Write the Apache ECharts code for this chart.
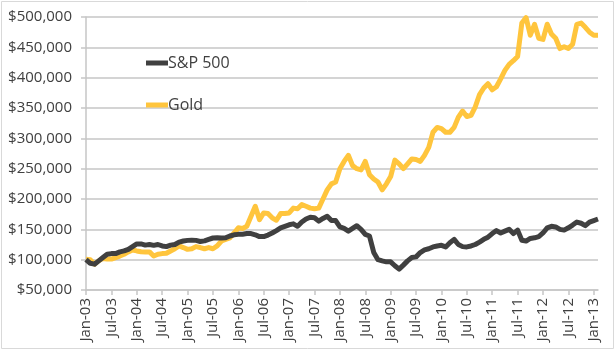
<!DOCTYPE html>
<html>
<head>
<meta charset="utf-8">
<script src="https://cdn.jsdelivr.net/npm/echarts@6/dist/echarts.min.js"></script>
<style>
  html, body { margin: 0; padding: 0; background: #fff; }
  #chart { width: 616px; height: 352px; }
</style>
</head>
<body>
<div id="chart"></div>
<script>
// months Jan-03 .. Feb-13
const months = [];
const monthNames = ["Jan", "Feb", "Mar", "Apr", "May", "Jun", "Jul", "Aug", "Sep", "Oct", "Nov", "Dec"];
for (let y = 3; y <= 13; y++) {
  monthNames.forEach((m, i) => {
    if (y === 13 && i > 1) return;
    months.push(m + "-" + String(y).padStart(2, "0"));
  });
}

// growth of $100,000
const sp500 = [
  100000, 94000, 92600, 98000, 103500, 109000, 110000, 110000, 112800, 114400, 117000, 121500,
  126000, 126000, 124000, 125000, 123600, 125000, 122600, 121500, 124000, 125000, 129000, 130700,
  131800, 132000, 131800, 130000, 131000, 133500, 135700, 136000, 135700, 136000, 139000, 141000,
  141700, 142000, 143000, 143000, 141000, 138000, 138000, 140600, 144000, 148000, 152500, 155000,
  157500, 159000, 155000, 162000, 167000, 170000, 169000, 163500, 168000, 171600, 164500, 164500,
  154000, 151500, 147000, 151500, 156000, 150000, 141600, 139000, 112000, 100000, 98000, 96400,
  96400, 90000, 84400, 91000, 98000, 103500, 104600, 111700, 116000, 118000, 121000, 122600,
  123600, 121000, 128000, 133500, 125000, 121500, 121000, 122600, 125000, 129000, 133500, 137000,
  143000, 148000, 144000, 147000, 150000, 143000, 148700, 132000, 130700, 135000, 136000, 138000,
  144000, 152500, 155000, 154000, 150000, 148700, 152500, 157000, 162000, 160000, 156000, 162000,
  164500, 167000
];

const gold = [
  100800, 100000, 92600, 98000, 102000, 101000, 101000, 103500, 106000, 109000, 112800, 116000,
  114400, 113000, 112800, 112800, 106000, 109000, 110000, 110600, 114400, 118000, 122600, 120000,
  117000, 118000, 121500, 120000, 118000, 120000, 118000, 122600, 130700, 133500, 136000, 144000,
  152500, 151500, 155000, 171600, 188000, 166000, 177000, 176000, 169000, 165000, 176000, 176000,
  177000, 185000, 184000, 190700, 188000, 185000, 184000, 185000, 200000, 215000, 225000, 228000,
  250000, 262000, 272000, 255000, 250000, 248000, 262000, 240000, 233000, 228000, 215000, 225000,
  237000, 264000, 258000, 250000, 258000, 266000, 265000, 262000, 272000, 285000, 310000, 318000,
  316000, 310000, 310000, 318000, 335000, 345000, 336000, 338000, 352000, 372000, 383000, 390000,
  380000, 385000, 398000, 412000, 422000, 428000, 435000, 490000, 499000, 470000, 488000, 465000,
  463000, 488000, 472000, 465000, 448000, 451000, 448000, 455000, 488000, 490000, 483000, 475000,
  470000, 470000
];

const seriesNames = ["S&P 500", "Gold"];

const chart = echarts.init(document.getElementById("chart"));
const textColor = "#404040";
const gridColor = "#c6c6c6";

chart.setOption({
  animation: false,
  graphic: [
    {
      type: "rect",
      shape: { x: 1.5, y: 1.5, width: 612, height: 347 },
      style: { fill: "none", stroke: "#d9d9d9", lineWidth: 1 },
      silent: true,
    },
  ],
  legend: {
    orient: "vertical",
    left: 141,
    top: 50,
    itemWidth: 22,
    itemHeight: 5,
    itemGap: 26,
    icon: "rect",
    textStyle: { fontSize: 16, color: textColor, fontFamily: "Open Sans", padding: [0, 0, 0, -5] },
    data: seriesNames,
  },
  grid: { left: 86, right: 18, top: 17, bottom: 62 },
  xAxis: {
    type: "category",
    boundaryGap: false,
    data: months,
    axisLine: { lineStyle: { color: gridColor, width: 1.5 } },
    axisTick: { interval: 5, length: 5, lineStyle: { color: gridColor, width: 1.5 } },
    axisLabel: {
      interval: 5,
      rotate: 90,
      fontSize: 15,
      color: textColor,
      fontFamily: "Open Sans",
      margin: 8,
    },
    splitLine: { show: false },
  },
  yAxis: {
    type: "value",
    min: 50000,
    max: 500000,
    interval: 50000,
    axisLine: { show: true, lineStyle: { color: gridColor, width: 1.5 } },
    axisTick: { show: true, length: 5, lineStyle: { color: gridColor, width: 1.5 } },
    axisLabel: {
      fontSize: 15,
      color: textColor,
      fontFamily: "Open Sans",
      margin: 14,
      formatter: (v) => "$" + v.toLocaleString("en-US"),
    },
    splitLine: { lineStyle: { color: gridColor, width: 1.5 } },
  },
  series: [
    {
      name: seriesNames[0],
      type: "line",
      data: sp500,
      showSymbol: false,
      lineStyle: { width: 5, color: "#404040", join: "round" },
      itemStyle: { color: "#404040" },
      z: 3,
    },
    {
      name: seriesNames[1],
      type: "line",
      data: gold,
      showSymbol: false,
      lineStyle: { width: 5, color: "#ffc53d", join: "round" },
      itemStyle: { color: "#ffc53d" },
      z: 2,
    },
  ],
});
</script>
</body>
</html>
